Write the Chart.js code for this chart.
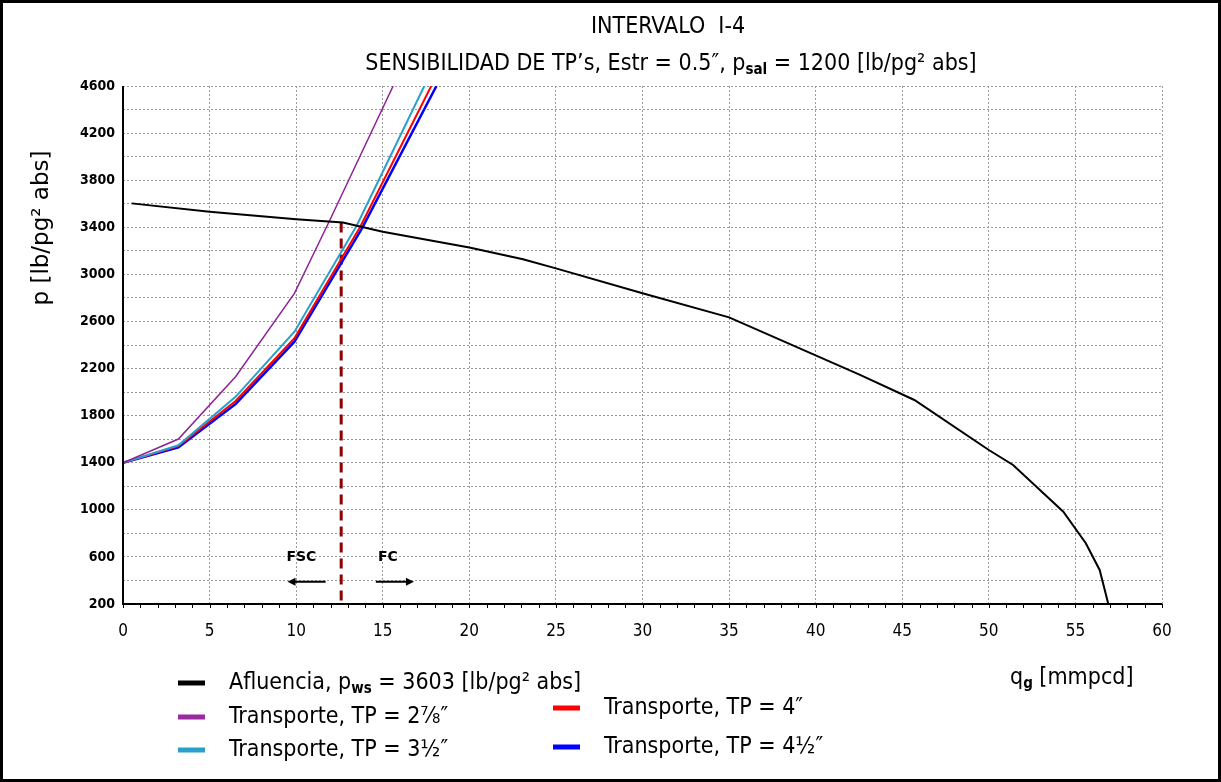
<!DOCTYPE html>
<html>
<head>
<meta charset="utf-8">
<script src="https://cdn.jsdelivr.net/npm/chart.js@4.4.0/dist/chart.umd.min.js"></script>
<style>
  body{margin:0;background:#fff;}
  #wrap{position:relative;width:1221px;height:782px;}
</style>
</head>
<body>
<div id="wrap"><canvas id="myChart"></canvas></div>
<script>
// curva de afluencia
const qAflu=[0.5,5,10,12.7,15,20,23.1,25,30,35,42.5,45.7,50,51.4,54.3,55.6,56.4,56.9];
const pAflu=[3603,3532,3468,3440,3362,3228,3128,3051,2839,2635,2150,1933,1508,1381,984,716,489,200];
// curvas de transporte, una por TP
const q278=[0,3.2,6.5,9.9,11.9,15.6];
const p278=[1400,1601,2131,2839,3447,4600];
const q312=[0,3.2,6.5,9.9,13.5,17.4];
const p312=[1400,1548,1960,2513,3415,4600];
const q4=[0,3.2,6.5,9.9,13.7,17.8];
const p4=[1400,1542,1925,2457,3405,4600];
const q412=[0,3.2,6.5,9.9,13.8,18.1];
const p412=[1400,1530,1899,2428,3391,4600];
// linea vertical FSC / FC
const qCrit=[12.6,12.6];
const pCrit=[3440,200];

const yLabels=[200,600,1000,1400,1800,2200,2600,3000,3400,3800,4200,4600];

const F='"DejaVu Sans Condensed", "DejaVu Sans", sans-serif';
const MAIN='23px '+F;
const SUB='bold 15px '+F;

const xy=(qs,ps)=>qs.map((q,i)=>({x:q,y:ps[i]}));

function rich(ctx,parts,x,y,align){
  let w=0;
  parts.forEach(p=>{ctx.font=p.f;w+=ctx.measureText(p.t).width;});
  let cx=align==='center'?x-w/2:x;
  parts.forEach(p=>{
    ctx.font=p.f;
    ctx.fillText(p.t,cx,y+(p.dy||0));
    cx+=ctx.measureText(p.t).width;
  });
}

function arrow(ctx,x1,x2,y){
  const dir=Math.sign(x2-x1);
  ctx.beginPath();ctx.moveTo(x1,y);ctx.lineTo(x2-dir*6,y);ctx.stroke();
  ctx.beginPath();ctx.moveTo(x2,y);ctx.lineTo(x2-dir*8,y-4);ctx.lineTo(x2-dir*8,y+4);ctx.closePath();ctx.fill();
}

const legendItems=[
  {color:'#000000',x:178,y:683,parts:[{t:'Afluencia, p',f:MAIN},{t:'ws',f:SUB,dy:6},{t:' = 3603 [lb/pg² abs]',f:MAIN}]},
  {color:'#9A2AA0',x:178,y:717,parts:[{t:'Transporte, TP = 2⅞″',f:MAIN}]},
  {color:'#2B9FCC',x:178,y:750,parts:[{t:'Transporte, TP = 3½″',f:MAIN}]},
  {color:'#FF0000',x:553,y:708,parts:[{t:'Transporte, TP = 4″',f:MAIN}]},
  {color:'#0000FF',x:553,y:747,parts:[{t:'Transporte, TP = 4½″',f:MAIN}]},
];

const deco={
  id:'deco',
  beforeDraw(chart){
    const ctx=chart.ctx;
    ctx.save();ctx.fillStyle='#fff';ctx.fillRect(0,0,chart.width,chart.height);ctx.restore();
  },
  afterDraw(chart){
    const {ctx,chartArea:a,scales:{x,y}}=chart;
    ctx.save();
    ctx.strokeStyle='#000';ctx.fillStyle='#000';
    // ejes
    ctx.lineWidth=2;
    ctx.beginPath();ctx.moveTo(a.left,a.top);ctx.lineTo(a.left,a.bottom);ctx.lineTo(a.right,a.bottom);ctx.stroke();
    ctx.lineWidth=1;
    for(let q=0;q<=60;q++){
      const px=Math.round(x.getPixelForValue(q))+0.5;
      ctx.beginPath();ctx.moveTo(px,a.bottom);ctx.lineTo(px,a.bottom+4);ctx.stroke();
    }
    // marco
    ctx.lineWidth=3;
    ctx.strokeRect(1.5,1.5,chart.width-3,chart.height-3);

    ctx.textBaseline='middle';ctx.textAlign='left';
    // titulos
    rich(ctx,[{t:'INTERVALO  I-4',f:MAIN}],668,27,'center');
    rich(ctx,[{t:'SENSIBILIDAD DE TP’s, Estr = 0.5″, p',f:MAIN},{t:'sal',f:SUB,dy:6},{t:' = 1200 [lb/pg² abs]',f:MAIN}],671,64,'center');
    // titulo eje y
    ctx.save();
    ctx.translate(42,228);ctx.rotate(-Math.PI/2);
    rich(ctx,[{t:'p [lb/pg² abs]',f:'23px "DejaVu Sans", sans-serif'}],0,0,'center');
    ctx.restore();
    // titulo eje x
    rich(ctx,[{t:'q',f:MAIN},{t:'g',f:SUB,dy:6},{t:' [mmpcd]',f:MAIN}],1010,678,'left');
    // FSC / FC
    ctx.font='bold 14px "DejaVu Sans", sans-serif';
    ctx.textAlign='center';
    const yTxt=y.getPixelForValue(600);
    ctx.fillText('FSC',x.getPixelForValue(10.3),yTxt);
    ctx.fillText('FC',x.getPixelForValue(15.3),yTxt);
    ctx.textAlign='left';
    ctx.lineWidth=2;
    const yArr=y.getPixelForValue(390);
    arrow(ctx,x.getPixelForValue(11.7),x.getPixelForValue(9.5),yArr);
    arrow(ctx,x.getPixelForValue(14.6),x.getPixelForValue(16.8),yArr);
    // leyenda
    legendItems.forEach(it=>{
      ctx.fillStyle=it.color;
      ctx.fillRect(it.x,it.y-2.5,27,5);
      ctx.fillStyle='#000';
      rich(ctx,it.parts,it.x+51,it.y,'left');
    });
    ctx.restore();
  }
};

const lineDs=(label,data,color,width)=>({
  label,data,borderColor:color,backgroundColor:color,borderWidth:width,
  showLine:true,pointRadius:0,tension:0,fill:false,
});

const ctx=document.getElementById('myChart').getContext('2d');
const chart=new Chart(ctx,{
  type:'scatter',
  data:{
    datasets:[
      lineDs('Afluencia',xy(qAflu,pAflu),'#000000',2),
      lineDs('TP 2 7/8',xy(q278,p278),'#8E2296',1.5),
      lineDs('TP 3 1/2',xy(q312,p312),'#2B9FCC',2),
      lineDs('TP 4',xy(q4,p4),'#FF0000',2),
      lineDs('TP 4 1/2',xy(q412,p412),'#0000FF',2.5),
      Object.assign(lineDs('FSC/FC',xy(qCrit,pCrit),'#8B0000',3),{borderDash:[10,6]}),
    ]
  },
  options:{
    responsive:true,
    maintainAspectRatio:false,
    animation:false,
    events:[],
    layout:{padding:{left:0,top:86,right:59,bottom:0}},
    plugins:{legend:{display:false},tooltip:{enabled:false},title:{display:false}},
    scales:{
      x:{
        type:'linear',min:0,max:60,
        afterFit:s=>{s.height=178;},
        ticks:{stepSize:5,color:'#000',padding:17,font:{family:F,size:17}},
        grid:{color:'#9a9a9a',lineWidth:1,drawTicks:false},
        border:{display:false,dash:[2,2]},
      },
      y:{
        type:'linear',min:200,max:4600,
        afterFit:s=>{s.width=123;},
        ticks:{
          stepSize:200,autoSkip:false,color:'#000',padding:8,
          font:{family:F,size:14,weight:'bold'},
          callback:v=>yLabels.includes(v)?v:'',
        },
        grid:{color:'#9a9a9a',lineWidth:1,drawTicks:false},
        border:{display:false,dash:[2,2]},
      }
    }
  },
  plugins:[deco]
});
</script>
</body>
</html>
